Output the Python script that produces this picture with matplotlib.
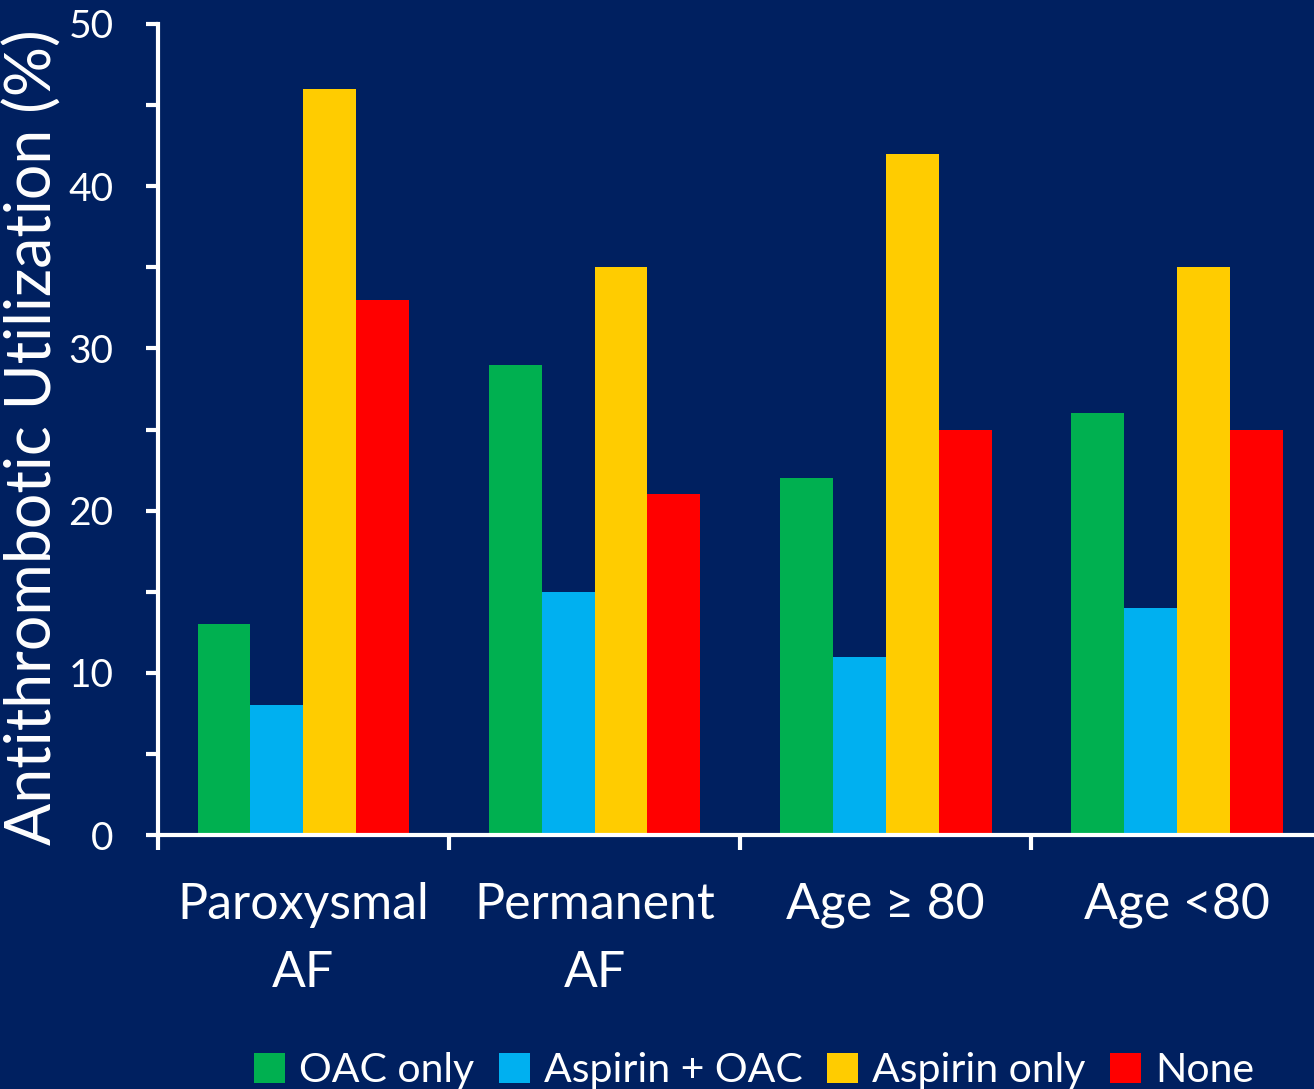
import matplotlib.pyplot as plt
import numpy as np

plt.rcParams['font.family'] = ['Lato', 'DejaVu Sans']

groups = ['Paroxysmal\nAF', 'Permanent\nAF', 'Age ≥ 80', 'Age <80']
series = ['OAC only', 'Aspirin + OAC', 'Aspirin only', 'None']
oac_only = [13, 29, 22, 26]
aspirin_oac = [8, 15, 11, 14]
aspirin_only = [46, 35, 42, 35]
none = [33, 21, 25, 25]
colors = ['#00B050', '#00B0F0', '#FFCC00', '#FF0000']

bg = '#002060'
fig = plt.figure(figsize=(13.14, 10.89), dpi=100, facecolor=bg)
ax = fig.add_axes([0.1202, 0.2332, 0.886, 0.7448], facecolor=bg)

w = 0.182
centers = np.arange(len(groups)) + 0.5
for k, (vals, name) in enumerate(zip([oac_only, aspirin_oac, aspirin_only, none], series)):
    ax.bar(centers + (k - 1.5) * w, vals, width=w, color=colors[k], label=name, linewidth=0)

ax.set_xlim(0, 4)
ax.set_ylim(0, 50)

for side in ['top', 'right']:
    ax.spines[side].set_visible(False)
for side in ['left', 'bottom']:
    ax.spines[side].set_color('white')
    ax.spines[side].set_linewidth(3)

# y axis: labelled every 10, small ticks every 5
ax.set_yticks(range(0, 51, 10))
ax.set_yticks(range(5, 50, 10), minor=True)
ax.tick_params(axis='y', which='both', colors='white', direction='out', length=9, width=3,
               labelsize=28, pad=23)

# x axis: ticks at group boundaries, labels at group centres
ax.set_xticks(range(0, 5))
ax.set_xticklabels([])
ax.set_xticks(centers, minor=True)
ax.set_xticklabels(groups, minor=True, fontsize=36, color='white', linespacing=1.6)
ax.tick_params(axis='x', which='major', colors='white', direction='out', length=11, width=3)
ax.tick_params(axis='x', which='minor', length=0, pad=34)

ax.set_ylabel('Antithrombotic Utilization (%)', fontsize=45, color='white', labelpad=4)
ax.yaxis.set_label_coords(-0.082, 0.49)

fig.legend(loc='lower center', bbox_to_anchor=(0.574, -0.034), ncol=4, frameon=False,
           fontsize=29.5, labelcolor='white', handlelength=0.75, handleheight=0.75,
           handletextpad=0.35, columnspacing=0.6)

fig.savefig('out.png', dpi=100, facecolor=bg)
